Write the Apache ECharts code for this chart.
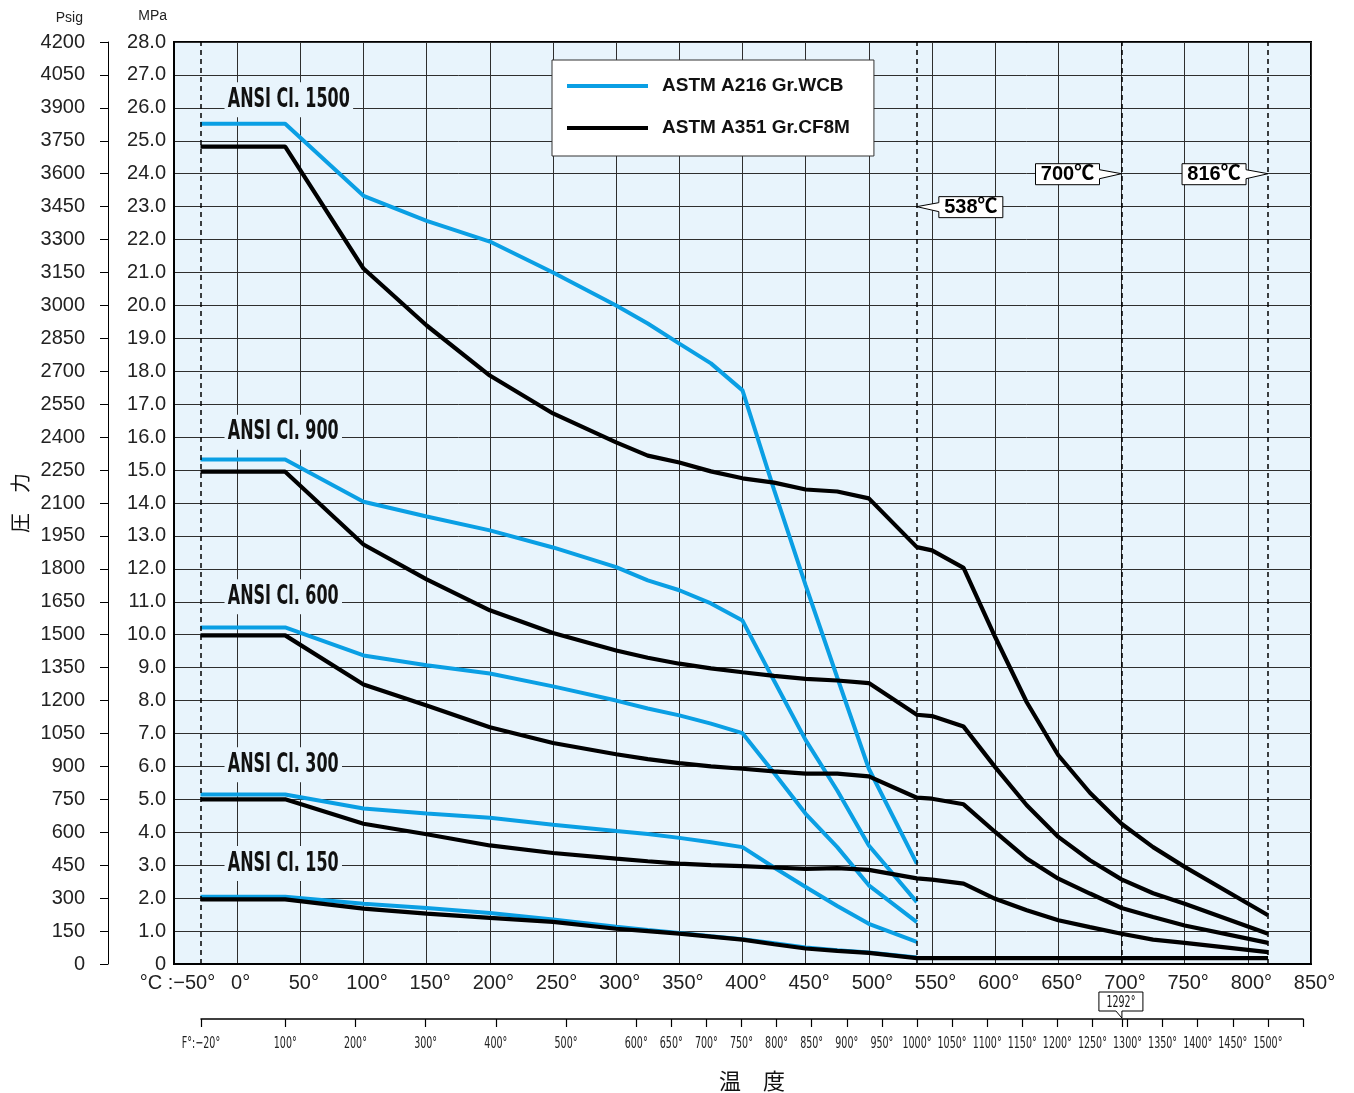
<!DOCTYPE html>
<html><head><meta charset="utf-8">
<script src="https://cdn.jsdelivr.net/npm/echarts@6/dist/echarts.min.js"></script>
<style>html,body{margin:0;padding:0;background:#fff}#c{width:1354px;height:1093px}</style>
</head><body><div id="c"></div>
<script>
// ---- data (temperature in °C, pressure in MPa) ----
const tempsWCB = [-29, 38, 100, 150, 200, 250, 300, 325, 350, 375, 400, 425, 450, 475, 500, 538];
const wcb1500 = [25.52, 25.52, 23.33, 22.57, 21.94, 21.0, 20.0, 19.45, 18.84, 18.24, 17.42, 14.4, 11.5, 8.7, 5.93, 3.05];
const wcb900  = [15.32, 15.32, 14.04, 13.59, 13.17, 12.65, 12.05, 11.65, 11.35, 10.95, 10.43, 8.6, 6.8, 5.27, 3.60, 1.88];
const wcb600  = [10.22, 10.22, 9.37, 9.07, 8.82, 8.43, 8.0, 7.76, 7.55, 7.3, 7.01, 5.8, 4.56, 3.55, 2.39, 1.27];
const wcb300  = [5.15, 5.15, 4.72, 4.57, 4.44, 4.23, 4.04, 3.95, 3.83, 3.70, 3.55, 2.93, 2.34, 1.76, 1.22, 0.67];
const wcb150  = [2.04, 2.04, 1.83, 1.70, 1.55, 1.35, 1.13, 1.03, 0.94, 0.84, 0.75, 0.63, 0.50, 0.42, 0.35, 0.20];

const tempsCF8M = [-29, 38, 100, 150, 200, 250, 300, 325, 350, 375, 400, 425, 450, 475, 500, 538, 550, 575, 600, 625, 650, 675, 700, 725, 750, 816];
const cf8m1500 = [24.82, 24.82, 21.12, 19.39, 17.87, 16.72, 15.84, 15.44, 15.23, 14.96, 14.75, 14.62, 14.41, 14.35, 14.14, 12.66, 12.56, 12.03, 9.93, 7.95, 6.34, 5.2, 4.26, 3.55, 2.95, 1.48];
const cf8m900  = [14.95, 14.95, 12.74, 11.68, 10.74, 10.05, 9.52, 9.3, 9.12, 8.98, 8.86, 8.75, 8.66, 8.61, 8.53, 7.57, 7.53, 7.21, 5.98, 4.82, 3.86, 3.15, 2.57, 2.15, 1.83, 0.92];
const cf8m600  = [9.98, 9.98, 8.49, 7.85, 7.19, 6.71, 6.37, 6.22, 6.10, 6.0, 5.93, 5.85, 5.78, 5.78, 5.70, 5.05, 5.02, 4.85, 4.01, 3.20, 2.59, 2.14, 1.70, 1.43, 1.17, 0.64];
const cf8m300  = [5.0, 5.0, 4.26, 3.94, 3.60, 3.37, 3.20, 3.12, 3.05, 3.0, 2.97, 2.93, 2.89, 2.91, 2.86, 2.60, 2.56, 2.44, 1.98, 1.63, 1.33, 1.12, 0.92, 0.74, 0.64, 0.36];
const cf8m150  = [1.96, 1.96, 1.68, 1.53, 1.40, 1.28, 1.07, 1.0, 0.92, 0.83, 0.74, 0.6, 0.47, 0.40, 0.34, 0.18, 0.18, 0.18, 0.18, 0.18, 0.18, 0.18, 0.18, 0.18, 0.18, 0.18];

const seriesNames = ['ASTM A216 Gr.WCB', 'ASTM A351 Gr.CF8M'];
const classNames = ['ANSI Cl. 1500', 'ANSI Cl. 900', 'ANSI Cl. 600', 'ANSI Cl. 300', 'ANSI Cl. 150'];
const classLabelLevels = [26.25, 16.15, 11.15, 6.05, 3.05];
const classLabelTemp = -10;

const fLabelValues = [-20, 100, 200, 300, 400, 500, 600, 650, 700, 750, 800, 850, 900, 950, 1000, 1050, 1100, 1150, 1200, 1250, 1300, 1350, 1400, 1450, 1500];
const fExtraTicks = [1292, 1550];
const limitTemps = [-29, 538, 700, 816];
const calloutTemps = [538, 700, 816];
const calloutLevels = [23, 24, 24];
const calloutTexts = ['538℃', '700℃', '816℃'];
const calloutSides = ['right', 'left', 'left'];
const fMark = 1292;

// ---- styles ----
const BG = '#e8f4fc';
const BLUE = '#0a9fe4';
const BLACK = '#000000';
const GRIDC = '#2e2e2e';
const FONT = '"Liberation Sans", "Noto Sans", sans-serif';

function hasFont(f) {
  const c = document.createElement('canvas').getContext('2d');
  c.font = '40px monospace';
  const a = c.measureText('abcWm1000').width;
  c.font = '40px "' + f + '", monospace';
  return c.measureText('abcWm1000').width !== a;
}
const condensedList = ['Liberation Sans Narrow', 'DejaVu Sans Condensed', 'Roboto Condensed', 'Arial Narrow', 'Noto Sans Condensed'];
const condensed = condensedList.find(hasFont);
const NARROW = condensed ? '"' + condensed + '", "Liberation Sans", sans-serif' : FONT;
const fFormat = v => v === -20 ? 'F°:−20°' : v + '°';

function pairs(t, v) { return t.map((x, i) => [x, v[i]]); }

const blueSets = [wcb1500, wcb900, wcb600, wcb300, wcb150];
const blackSets = [cf8m1500, cf8m900, cf8m600, cf8m300, cf8m150];
const series = [];
blueSets.forEach((v, i) => series.push({
  name: seriesNames[0], type: 'line', xAxisIndex: 0, yAxisIndex: 0, symbol: 'none', z: 3,
  data: pairs(tempsWCB, v), lineStyle: { color: BLUE, width: 4 }, itemStyle: { color: BLUE },
  markLine: i === 0 ? {
    silent: true, symbol: ['none', 'none'], label: { show: false },
    lineStyle: { color: '#000', type: [5, 4], width: 1.5 },
    data: limitTemps.map(t => ({ xAxis: t }))
  } : undefined
}));
blackSets.forEach(v => series.push({
  name: seriesNames[1], type: 'line', xAxisIndex: 0, yAxisIndex: 0, symbol: 'none', z: 4,
  data: pairs(tempsCF8M, v), lineStyle: { color: BLACK, width: 4.2 }, itemStyle: { color: BLACK }
}));

const option = {
  animation: false,
  backgroundColor: '#fff',
  grid: [
    { left: 174, right: 43, top: 42, bottom: 129, show: true, backgroundColor: BG, borderColor: '#000', borderWidth: 2, outerBoundsMode: 'none', containLabel: false },
    { left: 201, right: 51, top: 1018, height: 1, show: false, outerBoundsMode: 'none', containLabel: false }
  ],
  legend: {
    data: seriesNames, orient: 'vertical', left: 552, top: 60, selectedMode: false,
    backgroundColor: '#fff', borderColor: '#333', borderWidth: 1,
    padding: [16, 24, 18, 15], itemWidth: 81, itemHeight: 4, itemGap: 22, icon: 'rect',
    textStyle: { fontSize: 19, fontWeight: 'bold', fontFamily: FONT, color: '#111', lineHeight: 20, padding: [0, 0, 0, 9] }
  },
  xAxis: [
    {
      type: 'value', gridIndex: 0, min: -50, max: 850, interval: 50,
      axisLine: { show: true, onZero: false, lineStyle: { color: '#000', width: 2 } },
      axisTick: { show: false },
      splitLine: { show: true, lineStyle: { color: GRIDC, width: 1 } },
      axisLabel: {
        fontSize: 20, fontFamily: FONT, color: '#222', margin: 9, padding: [0, 0, 0, 7],
        formatter: v => v === -50 ? '°C :−50°' : v + '°'
      }
    },
    {
      type: 'value', gridIndex: 1, min: -20, max: 1550, position: 'bottom',
      axisLine: { show: true, onZero: false, lineStyle: { color: '#000', width: 1.5 } },
      axisTick: { show: true, length: 8, customValues: fLabelValues.concat(fExtraTicks), lineStyle: { color: '#000', width: 1.2 } },
      splitLine: { show: false },
      axisLabel: { show: false, customValues: fLabelValues, formatter: fFormat },
      name: '温　度', nameLocation: 'middle', nameGap: 62,
      nameTextStyle: { fontSize: 22, fontFamily: '"Noto Sans CJK JP", sans-serif', color: '#111', verticalAlign: 'middle' }
    }
  ],
  yAxis: [
    {
      type: 'value', gridIndex: 0, min: 0, max: 28, interval: 1, position: 'left',
      axisLine: { show: true, onZero: false, lineStyle: { color: '#000', width: 2 } },
      axisTick: { show: false },
      splitLine: { show: true, lineStyle: { color: GRIDC, width: 1 } },
      axisLabel: { fontSize: 20, fontFamily: FONT, color: '#222', margin: 8, formatter: v => v === 0 ? '0' : v.toFixed(1) },
      name: 'MPa', nameLocation: 'end', nameGap: 26,
      nameTextStyle: { fontSize: 14, fontFamily: FONT, color: '#222', align: 'right', verticalAlign: 'middle', padding: [0, 7, 0, 0] }
    },
    {
      type: 'value', gridIndex: 0, min: 0, max: 4200, interval: 150, position: 'left', offset: 66,
      axisLine: { show: true, onZero: false, lineStyle: { color: '#000', width: 1 } },
      axisTick: { show: true, length: 8, lineStyle: { color: '#000', width: 1 } },
      splitLine: { show: false },
      axisLabel: { fontSize: 20, fontFamily: FONT, color: '#222', margin: 23, formatter: v => String(v) },
      name: 'Psig', nameLocation: 'end', nameGap: 24,
      nameTextStyle: { fontSize: 14, fontFamily: FONT, color: '#222', align: 'right', verticalAlign: 'middle', padding: [0, 25, 0, 0] }
    },
    {
      type: 'value', gridIndex: 0, min: 0, max: 28, position: 'left', offset: 66,
      axisLine: { show: false, onZero: false }, axisTick: { show: false }, axisLabel: { show: false }, splitLine: { show: false },
      name: '圧　力', nameLocation: 'middle', nameGap: 78, nameRotate: 90,
      nameTextStyle: { fontSize: 20, fontFamily: '"Noto Sans CJK JP", sans-serif', color: '#111' }
    },
    { type: 'value', gridIndex: 1, min: 0, max: 1, show: false }
  ],
  series: series
};

const chart = echarts.init(document.getElementById('c'), null, { renderer: 'canvas' });
chart.setOption(option);

// ---- annotations positioned through the axes ----
const g = [];
const ctx = document.createElement('canvas').getContext('2d');
const labelFont = 'bold 27px ' + NARROW;
ctx.font = labelFont;
const sx = 122 / ctx.measureText(classNames[0]).width;
classNames.forEach((n, i) => {
  const p = chart.convertToPixel({ xAxisIndex: 0, yAxisIndex: 0 }, [classLabelTemp, classLabelLevels[i]]);
  g.push({
    type: 'text', x: p[0], y: p[1], scaleX: sx, z: 50,
    style: { text: n, font: labelFont, fill: '#111', align: 'left', verticalAlign: 'middle', backgroundColor: BG, padding: [4, 5, 4, 5] }
  });
});
// Fahrenheit tick labels (condensed) on the second axis
const fFont = '16px ' + NARROW;
ctx.font = fFont;
const fsx = Math.min(1, 29 / ctx.measureText('1000°').width);
fLabelValues.forEach(v => {
  const p = chart.convertToPixel({ xAxisIndex: 1, yAxisIndex: 3 }, [v, 0]);
  g.push({ type: 'text', x: p[0], y: p[1] + 25, scaleX: fsx, z: 40, style: { text: fFormat(v), font: fFont, fill: '#222', align: 'center', verticalAlign: 'middle' } });
});
calloutTemps.forEach((t, i) => {
  const p = chart.convertToPixel({ xAxisIndex: 0, yAxisIndex: 0 }, [t, calloutLevels[i]]);
  const tx = p[0], ty = p[1], w = 64, gap = 22;
  let pts, cx;
  if (calloutSides[i] === 'right') {
    const x0 = tx + gap, x1 = x0 + w;
    pts = [[x0, ty - 10], [x1, ty - 10], [x1, ty + 11], [x0, ty + 11], [x0, ty + 5], [tx, ty], [x0, ty - 4]];
    cx = (x0 + x1) / 2;
  } else {
    const x1 = tx - gap, x0 = x1 - w;
    pts = [[x0, ty - 10], [x1, ty - 10], [x1, ty - 4], [tx, ty], [x1, ty + 5], [x1, ty + 11], [x0, ty + 11]];
    cx = (x0 + x1) / 2;
  }
  g.push({ type: 'polygon', z: 60, shape: { points: pts }, style: { fill: '#fff', stroke: '#000', lineWidth: 1 } });
  g.push({ type: 'text', x: cx, y: ty + 1, z: 61, style: { text: calloutTexts[i], font: 'bold 20px "Liberation Sans", "Noto Sans CJK JP"', fill: '#000', align: 'center', verticalAlign: 'middle' } });
});
(function () {
  const p = chart.convertToPixel({ xAxisIndex: 1, yAxisIndex: 3 }, [fMark, 0]);
  const fx = p[0], fy = p[1];
  const x0 = fx - 23, x1 = fx + 21, y1 = fy - 8, y0 = y1 - 19;
  g.push({ type: 'polygon', z: 60, shape: { points: [[x0, y0], [x1, y0], [x1, y1], [fx, y1], [fx, fy - 1], [fx - 6, y1], [x0, y1]] }, style: { fill: '#fff', stroke: '#000', lineWidth: 1 } });
  g.push({ type: 'text', x: (x0 + x1) / 2, y: (y0 + y1) / 2 + 1, z: 61, scaleX: fsx, style: { text: fMark + '°', font: fFont, fill: '#111', align: 'center', verticalAlign: 'middle' } });
})();
chart.setOption({ graphic: g });
</script>
</body></html>
